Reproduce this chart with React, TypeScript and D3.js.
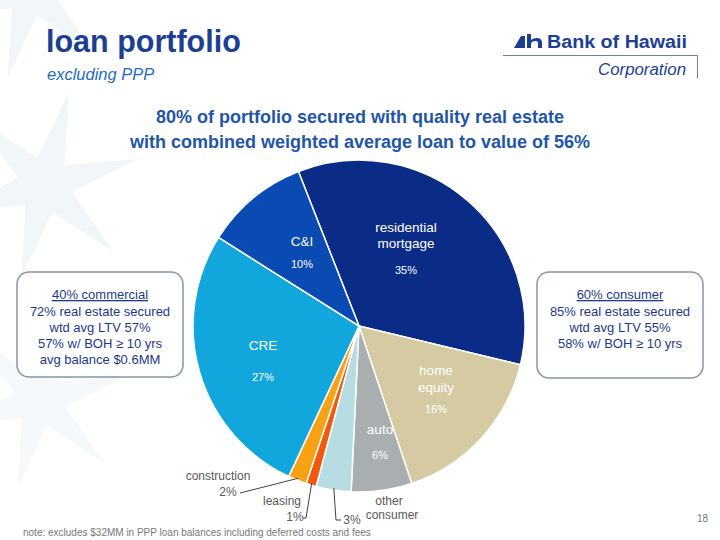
import React from "react";
import * as d3 from "d3";

const categories = ["residential mortgage", "home equity", "auto", "other consumer", "leasing", "construction", "CRE", "C&I"];
const shares = [34.7, 16.1, 5.9, 3.4, 1.0, 1.8, 27.0, 10.1];
const pctLabels = ["35%", "16%", "6%", "3%", "1%", "2%", "27%", "10%"];
const sliceColors = ["#0a2c86", "#d5caa2", "#a9aeb0", "#b7dde3", "#f15a0d", "#f6a214", "#11a6dc", "#0a4ab3"];

const leftBox = ["72% real estate secured", "wtd avg LTV 57%", "57% w/ BOH \u2265 10 yrs", "avg balance $0.6MM"];
const rightBox = ["85% real estate secured", "wtd avg LTV 55%", "58% w/ BOH \u2265 10 yrs"];

const W = 720, H = 540;
const cx = 359, cy = 326, R = 166;
const FONT = "'Liberation Sans', Arial, sans-serif";

// inner label layout (offsets from pie centre): name lines, pct
const innerLayout: Record<number, { x: number; lines: number[]; pctY: number; names: string[] }> = {
  0: { x: 47, names: ["residential", "mortgage"], lines: [-94, -78], pctY: -52 },
  7: { x: -57, names: ["C&I"], lines: [-80], pctY: -58 },
  6: { x: -96, names: ["CRE"], lines: [24], pctY: 55 },
  1: { x: 77, names: ["home", "equity"], lines: [49, 66], pctY: 87 },
  2: { x: 21, names: ["auto"], lines: [108], pctY: 133 },
};

function star(x: number, y: number, ro: number, ri: number, n: number, rot: number) {
  const pts: [number, number][] = [];
  for (let i = 0; i < n * 2; i++) {
    const r = i % 2 === 0 ? ro : ri;
    const a = rot + (Math.PI * i) / n;
    pts.push([x + r * Math.cos(a), y + r * Math.sin(a)]);
  }
  return "M" + pts.map((p) => p.join(",")).join("L") + "Z";
}

export default function App() {
  const pie = d3
    .pie<number>()
    .sort(null)
    .value((d) => d)
    .startAngle((-21.4 * Math.PI) / 180)
    .endAngle((-21.4 * Math.PI) / 180 + 2 * Math.PI);
  const arcs = pie(shares);
  const arc = d3.arc<d3.PieArcDatum<number>>().innerRadius(0).outerRadius(R);
  const edge = (d: d3.PieArcDatum<number>, r: number) => {
    const a = (d.startAngle + d.endAngle) / 2;
    return [cx + r * Math.sin(a), cy - r * Math.cos(a)];
  };

  const [ox, oy] = edge(arcs[3], R - 2); // other consumer
  const [lx, ly] = edge(arcs[4], R - 2); // leasing
  const [kx, ky] = edge(arcs[5], R - 2); // construction

  return (
    <svg width={W} height={H} style={{ position: "absolute", left: 0, top: 0 }} fontFamily={FONT}>
      <rect width={W} height={H} fill="#ffffff" />
      <g fill="#f1f6f9">
        <path d={star(45, 185, 95, 28, 6, -Math.PI / 2 + 0.25)} />
        <path d={star(30, -10, 90, 26, 6, -Math.PI / 2 + 0.25)} />
        <path d={star(40, 400, 90, 26, 6, -Math.PI / 2 + 0.25)} opacity={0.7} />
      </g>

      <text x={46} y={52} fontSize={30.5} fontWeight="bold" fill="#1c3f94">loan portfolio</text>
      <text x={47} y={80} fontSize={16.5} fontStyle="italic" fill="#1f6cc0">excluding PPP</text>

      {/* logo */}
      <g fill="#1c3f94">
        <path d="M514,48 L521,36 L525,36 L525,48 Z" />
        <path d="M527,34 L531,34 L531,40 Q533,38 537,38 Q542,38 542,43 L542,48 L538,48 L538,43 Q538,41 536,41 Q531,41 531,44 L531,48 L527,48 Z" />
        <text x={547} y={48} fontSize={17.5} fontWeight="bold" textLength={140} lengthAdjust="spacingAndGlyphs">Bank of Hawaii</text>
        <text x={598} y={75} fontSize={16} fontStyle="italic" textLength={88} lengthAdjust="spacingAndGlyphs">Corporation</text>
      </g>
      <path d="M503,55.5 H697.5 V78" fill="none" stroke="#6a7fa8" strokeWidth={1} />

      <g fontSize={18} fontWeight="bold" fill="#1f56a8" textAnchor="middle">
        <text x={360} y={123}>80% of portfolio secured with quality real estate</text>
        <text x={360} y={148}>with combined weighted average loan to value of 56%</text>
      </g>

      {/* pie */}
      <g>
        {arcs.map((d, i) => (
          <path key={categories[i]} d={arc(d) || ""} transform={`translate(${cx},${cy})`} fill={sliceColors[i]} stroke="#ffffff" strokeWidth={1.5} />
        ))}
      </g>
      <g fill="#ffffff" textAnchor="middle">
        {Object.keys(innerLayout).map((k) => {
          const i = +k;
          const L = innerLayout[i];
          return (
            <g key={k}>
              {L.names.map((n, j) => (
                <text key={n} x={cx + L.x} y={cy + L.lines[j]} fontSize={13.5}>{n}</text>
              ))}
              <text x={cx + L.x} y={cy + L.pctY} fontSize={11}>{pctLabels[i]}</text>
            </g>
          );
        })}
      </g>

      {/* outer labels */}
      <g fill="#595959" fontSize={12}>
        <text x={218} y={480} textAnchor="middle">construction</text>
        <text x={228} y={496} textAnchor="middle">{pctLabels[5]}</text>
        <text x={282} y={505} textAnchor="middle">leasing</text>
        <text x={295} y={521} textAnchor="middle">{pctLabels[4]}</text>
        <text x={352} y={524} textAnchor="middle">{pctLabels[3]}</text>
        <text x={389} y={505} textAnchor="middle">other</text>
        <text x={392} y={519} textAnchor="middle">consumer</text>
      </g>
      <g fill="none" stroke="#404040" strokeWidth={1}>
        <path d={`M240,493 L${kx},${ky}`} />
        <path d={`M303,518 H306 L${lx},${ly}`} />
        <path d={`M${ox},${oy} L336,520 H341`} />
      </g>

      {/* boxes */}
      <rect x={17} y={272} width={166} height={105} rx={12} fill="#ffffff" stroke="#8797a3" strokeWidth={1.5} />
      <rect x={537} y={272} width={166} height={106} rx={12} fill="#ffffff" stroke="#8797a3" strokeWidth={1.5} />
      <g fill="#1c3a8a" fontSize={13} textAnchor="middle">
        <text x={100} y={299} textDecoration="underline">40% commercial</text>
        {leftBox.map((t, i) => (
          <text key={t} x={100} y={315.5 + i * 16.2}>{t}</text>
        ))}
        <text x={620} y={299} textDecoration="underline">60% consumer</text>
        {rightBox.map((t, i) => (
          <text key={t} x={620} y={315.5 + i * 16.2}>{t}</text>
        ))}
      </g>

      <text x={23} y={536} fontSize={10} fill="#777777">note: excludes $32MM in PPP loan balances including deferred costs and fees</text>
      <text x={708} y={522} fontSize={10} fill="#777777" textAnchor="end">18</text>
    </svg>
  );
}
